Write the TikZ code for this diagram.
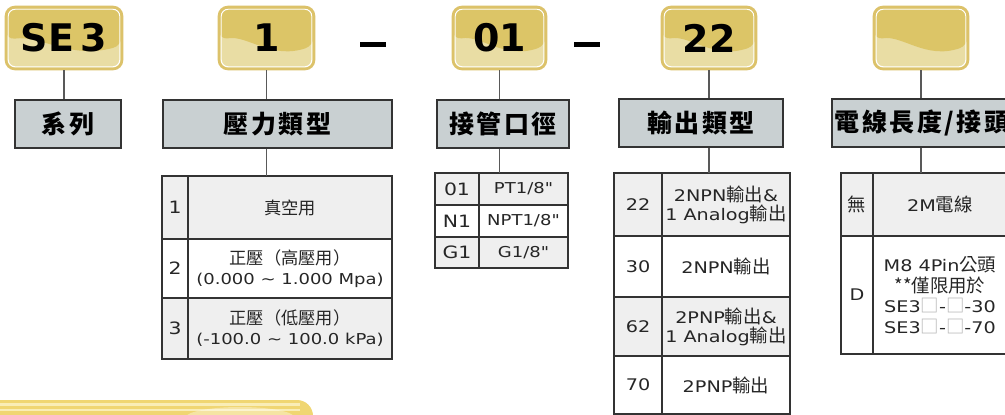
\documentclass[tikz,border=0pt]{standalone}
\usepackage{fontspec}
\setmainfont{DejaVu Sans}[FakeStretch=1.2, Ligatures=TeXOff]
\newfontfamily\codefont{DejaVu Sans Bold}
\newfontfamily\cjk{Noto Sans CJK TC}[Scale=1.15]
\newfontfamily\cjktitle{Noto Sans CJK TC}[LetterSpace=10]
\usetikzlibrary{calc}
\newcommand\zh[1]{{\cjk #1}}
\newcommand\sq{{\color{black!30}\cjk □}}

\definecolor{goldedge}{HTML}{DCC26A}
\definecolor{golddark}{HTML}{DCC567}
\definecolor{goldlight}{HTML}{E9DDA4}
\definecolor{titlegray}{HTML}{C9D0D2}
\definecolor{rowgray}{HTML}{EFEFEF}
\definecolor{tabline}{HTML}{333333}
\definecolor{bargold}{HTML}{F0D672}
\definecolor{barlight}{HTML}{F9EDB6}

\tikzset{
  codebox/.style={rounded corners=9pt, draw=goldedge, line width=2.6pt, fill=goldlight,
    minimum height=62, inner sep=0pt, font=\codefont\fontsize{38}{38}\selectfont,
    path picture={
      \fill[golddark] let \p1=(path picture bounding box.north west),
        \p2=(path picture bounding box.south east) in
        (\p1) -- (\x2,\y1) -- (\x2,{\y1+0.62*(\y2-\y1)})
        .. controls ({\x1+0.55*(\x2-\x1)},{\y1+0.85*(\y2-\y1)}) and ({\x1+0.3*(\x2-\x1)},{\y1+0.45*(\y2-\y1)})
        .. (\x1,{\y1+0.53*(\y2-\y1)}) -- cycle;
      \draw[white, line width=1pt, rounded corners=7pt]
        ([shift={(2.2pt,-2.2pt)}]path picture bounding box.north west) rectangle
        ([shift={(-2.2pt,2.2pt)}]path picture bounding box.south east);
    }},
  titlebox/.style={draw=tabline, line width=1.4pt, fill=titlegray, inner sep=0pt,
    minimum height=48, font=\cjktitle\bfseries\fontsize{25}{25}\selectfont},
  link/.style={draw=black!65, line width=1.4pt},
  dashbar/.style={line width=5pt},
  cell/.style={draw=tabline, line width=1.1pt, inner sep=0pt, outer sep=0pt,
    anchor=north west, align=center, text=black!85, font=\fontsize{16}{19}\selectfont},
  graycell/.style={cell, fill=rowgray},
}

\begin{document}
\begin{tikzpicture}[x=1pt,y=-1pt]
  \clip (0,0) rectangle (1005,415);
  \fill[white] (0,0) rectangle (1005,415);

  % code boxes
  \node[codebox, minimum width=116] (cSE) at (64,38) {SE\,3};
  \node[codebox, minimum width=95] (cP) at (266.5,38) {1};
  \node[codebox, minimum width=93] (cT) at (499.5,38) {01};
  \node[codebox, minimum width=94] (cO) at (709,38) {22};
  \node[codebox, minimum width=94] (cL) at (921,38) {};

  \draw[dashbar] (360,44) -- (386,44);
  \draw[dashbar] (574,44) -- (600,44);

  % titles
  \node[titlebox, minimum width=106] (tSE) at (68,124) {系列};
  \node[titlebox, minimum width=229] (tP) at (277.5,124) {壓力類型};
  \node[titlebox, minimum width=132] (tT) at (503,124) {接管口徑};
  \node[titlebox, minimum width=164] (tO) at (701,123) {輸出類型};
  \node[titlebox, minimum width=180] (tL) at (922,123) {電線長度/接頭};

  % pressure table
  \node[graycell, minimum width=26, minimum height=63, font=\fontsize{17}{17}\selectfont] (p1k) at (162,176) {1};
  \node[graycell, minimum width=204, minimum height=63, font=\fontsize{15}{19}\selectfont] (p1v) at (188,176) {\zh{真空用}};
  \node[cell, minimum width=26, minimum height=59, font=\fontsize{17}{17}\selectfont] (p2k) at (162,239) {2};
  \node[cell, minimum width=204, minimum height=59, font=\fontsize{15}{20}\selectfont] (p2v) at (188,239) {\zh{正壓（高壓用）}\\(0.000 \textasciitilde{} 1.000 Mpa)};
  \node[graycell, minimum width=26, minimum height=61, font=\fontsize{17}{17}\selectfont] (p3k) at (162,298) {3};
  \node[graycell, minimum width=204, minimum height=61, font=\fontsize{15}{20}\selectfont] (p3v) at (188,298) {\zh{正壓（低壓用）}\\(-100.0 \textasciitilde{} 100.0 kPa)};

  % thread table
  \node[graycell, minimum width=44, minimum height=32, font=\fontsize{17}{17}\selectfont] (t1k) at (435,173) {01};
  \node[graycell, minimum width=89, minimum height=32, font=\fontsize{15}{15}\selectfont] (t1v) at (479,173) {PT1/8"};
  \node[cell, minimum width=44, minimum height=32, font=\fontsize{17}{17}\selectfont] (t2k) at (435,205) {N1};
  \node[cell, minimum width=89, minimum height=32, font=\fontsize{15}{15}\selectfont] (t2v) at (479,205) {NPT1/8"};
  \node[graycell, minimum width=44, minimum height=31, font=\fontsize{17}{17}\selectfont] (t3k) at (435,237) {G1};
  \node[graycell, minimum width=89, minimum height=31, font=\fontsize{15}{15}\selectfont] (t3v) at (479,237) {G1/8"};

  % output table
  \node[graycell, minimum width=48, minimum height=63] (o1k) at (614,173) {22};
  \node[graycell, minimum width=128, minimum height=63] (o1v) at (662,173) {2NPN\zh{輸出}\&\\1 Analog\zh{輸出}};
  \node[cell, minimum width=48, minimum height=61] (o2k) at (614,236) {30};
  \node[cell, minimum width=128, minimum height=61] (o2v) at (662,236) {2NPN\zh{輸出}};
  \node[graycell, minimum width=48, minimum height=59] (o3k) at (614,297) {62};
  \node[graycell, minimum width=128, minimum height=59] (o3v) at (662,297) {2PNP\zh{輸出}\&\\1 Analog\zh{輸出}};
  \node[cell, minimum width=48, minimum height=58] (o4k) at (614,356) {70};
  \node[cell, minimum width=128, minimum height=58] (o4v) at (662,356) {2PNP\zh{輸出}};

  % cable table
  \node[graycell, minimum width=32, minimum height=63, font=\fontsize{16}{16}\selectfont] (l1k) at (841,173) {\zh{無}};
  \node[graycell, minimum width=134, minimum height=63] (l1v) at (873,173) {2M\zh{電線}};
  \node[cell, minimum width=32, minimum height=118] (l2k) at (841,236) {D};
  \node[cell, minimum width=134, minimum height=118, font=\fontsize{16}{20.5}\selectfont] (l2v) at (873,236)
    {M8 4Pin\zh{公頭}\\\zh{**僅限用於}\\SE3\sq-\sq-30\\SE3\sq-\sq-70};

  % connectors
  \draw[link] (cSE.south) -- (cSE.south |- tSE.north);
  \draw[link] (cP.south) -- (cP.south |- tP.north);
  \draw[link] (cT.south) -- (cT.south |- tT.north);
  \draw[link] (cO.south) -- (cO.south |- tO.north);
  \draw[link] (cL.south) -- (cL.south |- tL.north);
  \draw[link] (cP.south |- tP.south) -- (cP.south |- p1v.north);
  \draw[link] (cT.south |- tT.south) -- (cT.south |- t1v.north);
  \draw[link] (cO.south |- tO.south) -- (cO.south |- o1v.north);
  \draw[link] (cL.south |- tL.south) -- (cL.south |- l1v.north);

  % bottom bar
  \fill[bargold, rounded corners=16pt] (-20,400) rectangle (313,440);
  \fill[barlight] (-20,403) rectangle (300,405.5);
  \fill[barlight] (-20,409) rectangle (300,411);
  \fill[white, opacity=0.35] (240,418) ellipse (55 and 11);
\end{tikzpicture}
\end{document}
